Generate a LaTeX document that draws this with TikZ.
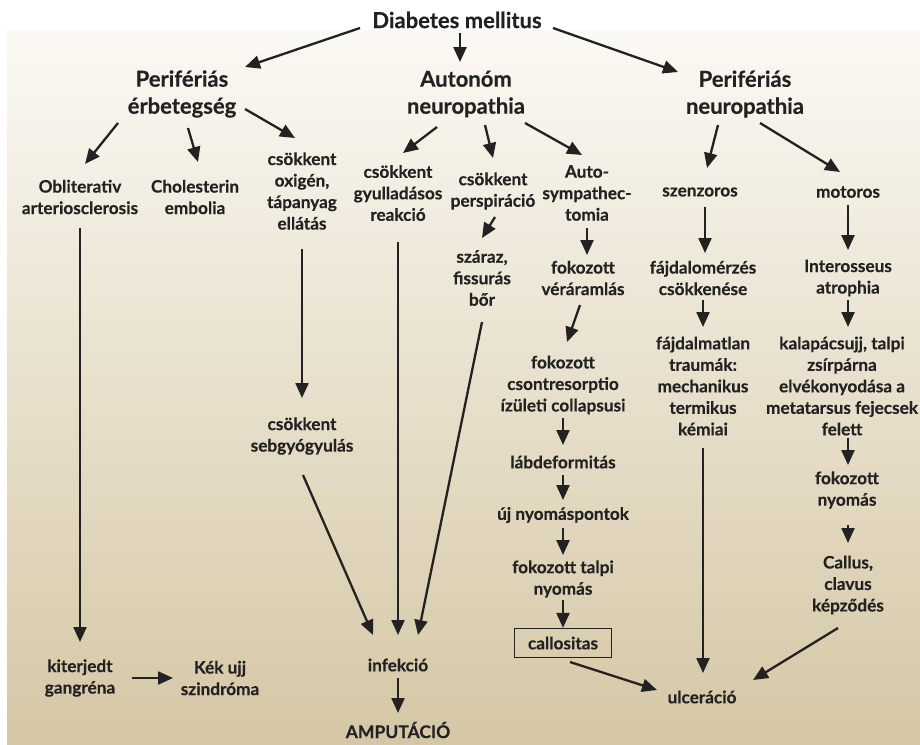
\documentclass[tikz,border=0pt]{standalone}
\usepackage{fontspec}
\setmainfont{Lato}[BoldFeatures={FakeBold=0.35}]
\usetikzlibrary{arrows.meta}
\definecolor{ink}{HTML}{222222}
\definecolor{bgtop}{HTML}{FBF9F4}
\definecolor{bgbot}{HTML}{D5C7A5}
\tikzset{
  txt/.style={font=\fontsize{17.2}{21.5}\selectfont\bfseries, align=center, text=ink, inner sep=0pt},
  hd/.style={font=\fontsize{22}{27}\selectfont\bfseries, align=center, text=ink, inner sep=0pt},
  arrow/.style={draw=ink, line width=2.3pt, -{Triangle[length=15pt,width=13pt]}},
  boxed/.style={txt, draw=ink, line width=1.2pt, minimum width=97pt, minimum height=29pt}
}
\begin{document}
\begin{tikzpicture}[x=1pt,y=-1pt]
\useasboundingbox (0,0) rectangle (920,744);
\fill[white] (0,0) rectangle (920,744);
\shade[top color=bgtop, bottom color=bgbot] (7,30) rectangle (920,744);

\node[hd] (dm) at (457,20) {Diabetes mellitus};
\node[hd] (pe) at (182,94) {Perifériás\\érbetegség};
\node[hd] (an) at (466,94) {Autonóm\\neuropathia};
\node[hd] (pn) at (745,94) {Perifériás\\neuropathia};

\node[txt] (ob) at (80,197) {Obliterativ\\arteriosclerosis};
\node[txt] (ch) at (195,197) {Cholesterin\\embolia};
\node[txt] (ox) at (302,191) {csökkent\\oxigén,\\tápanyag\\ellátás};
\node[txt] (gy) at (398,193) {csökkent\\gyulladásos\\reakció};
\node[txt] (ps) at (493,191) {csökkent\\perspiráció};
\node[txt] (as) at (587,193) {Auto-\\sympathec-\\tomia};
\node[txt] (sz) at (482,278) {száraz,\\fissurás\\bőr};
\node[txt] (fv) at (583,278) {fokozott\\véráramlás};
\node[txt] (se) at (700,192) {szenzoros};
\node[txt] (mo) at (848,192) {motoros};
\node[txt] (fc) at (703,278) {fájdalomérzés\\csökkenése};
\node[txt] (ia) at (848,278) {Interosseus\\atrophia};
\node[txt] (cr) at (563,385) {fokozott\\csontresorptio\\ízületi collapsusi};
\node[txt] (ld) at (563,462) {lábdeformitás};
\node[txt] (ft) at (703,386) {fájdalmatlan\\traumák:\\mechanikus\\termikus\\kémiai};
\node[txt] (ka) at (842,386) {kalapácsujj, talpi\\zsírpárna\\elvékonyodása a\\metatarsus fejecsek\\felett};
\node[txt] (fn) at (847,490) {fokozott\\nyomás};
\node[txt] (ca) at (848,585) {Callus,\\clavus\\képződés};
\node[txt] (un) at (563,515) {új nyomáspontok};
\node[txt] (tp) at (563,579) {fokozott talpi\\nyomás};
\node[boxed] (cs) at (563,643) {callositas};
\node[txt] (ul) at (702,697) {ulceráció};
\node[txt] (sb) at (302,436) {csökkent\\sebgyógyulás};
\node[txt] (kg) at (80,678) {kiterjedt\\gangréna};
\node[txt] (ku) at (220,678) {Kék ujj\\szindróma};
\node[txt] (in) at (398,665) {infekció};
\node[txt, font=\fontsize{17.5}{21}\selectfont\bfseries] (am) at (398,730) {AMPUTÁCIÓ};

\draw[arrow] ([shift={(-97,8)}]dm.center) -- ([shift={(63,-27)}]pe.center);
\draw[arrow] ([shift={(3,13)}]dm.center) -- ([shift={(-6,-32)}]an.center);
\draw[arrow] ([shift={(96,8)}]dm.center) -- ([shift={(-67,-22)}]pn.center);
\draw[arrow] ([shift={(-64,29)}]pe.center) -- ([shift={(5,-33)}]ob.center);
\draw[arrow] ([shift={(6,34)}]pe.center) -- ([shift={(3,-35)}]ch.center);
\draw[arrow] ([shift={(63,15)}]pe.center) -- ([shift={(-7,-53)}]ox.center);
\draw[arrow] ([shift={(-29,33)}]an.center) -- ([shift={(5,-40)}]gy.center);
\draw[arrow] ([shift={(19,31)}]an.center) -- ([shift={(0,-33)}]ps.center);
\draw[arrow] ([shift={(59,29)}]an.center) -- ([shift={(-5,-38)}]as.center);
\draw[arrow] ([shift={(2,26)}]ps.center) -- ([shift={(0,-40)}]sz.center);
\draw[arrow] ([shift={(0,35)}]as.center) -- ([shift={(4,-23)}]fv.center);
\draw[arrow] ([shift={(-27,31)}]pn.center) -- ([shift={(7,-24)}]se.center);
\draw[arrow] ([shift={(15,29)}]pn.center) -- ([shift={(-8,-20)}]mo.center);
\draw[arrow] ([shift={(5,15)}]se.center) -- ([shift={(2,-25)}]fc.center);
\draw[arrow] ([shift={(0,13)}]mo.center) -- ([shift={(0,-28)}]ia.center);
\draw[arrow] ([shift={(0,22)}]fc.center) -- ([shift={(0,-59)}]ft.center);
\draw[arrow] ([shift={(0,22)}]ia.center) -- ([shift={(6,-59)}]ka.center);
\draw[arrow] ([shift={(-3,27)}]fv.center) -- ([shift={(4,-43)}]cr.center);
\draw[arrow] ([shift={(0,33)}]cr.center) -- ([shift={(0,-17)}]ld.center);
\draw[arrow] ([shift={(0,13)}]ld.center) -- ([shift={(0,-15)}]un.center);
\draw[arrow] ([shift={(0,13)}]un.center) -- ([shift={(0,-24)}]tp.center);
\draw[arrow] ([shift={(0,21)}]tp.center) -- (cs.north);
\draw[arrow] ([shift={(7,19)}]cs.center) -- ([shift={(-45,-7)}]ul.center);
\draw[arrow] ([shift={(0,62)}]ft.center) -- ([shift={(1,-24)}]ul.center);
\draw[arrow] ([shift={(-10,43)}]ca.center) -- ([shift={(51,-17)}]ul.center);
\draw[arrow] ([shift={(6,52)}]ka.center) -- ([shift={(1,-25)}]fn.center);
\draw[arrow] ([shift={(1,35)}]fn.center) -- ([shift={(0,-42)}]ca.center);
\draw[arrow] ([shift={(0,31)}]ob.center) -- ([shift={(0,-36)}]kg.center);
\draw[arrow] ([shift={(52,0)}]kg.center) -- ([shift={(-47,0)}]ku.center);
\draw[arrow] ([shift={(0,58)}]ox.center) -- ([shift={(0,-38)}]sb.center);
\draw[arrow] ([shift={(1,39)}]sb.center) -- ([shift={(-25,-30)}]in.center);
\draw[arrow] ([shift={(0,49)}]gy.center) -- ([shift={(0,-30)}]in.center);
\draw[arrow] ([shift={(0,44)}]sz.center) -- ([shift={(20,-30)}]in.center);
\draw[arrow] ([shift={(0,13)}]in.center) -- ([shift={(0,-17)}]am.center);
\end{tikzpicture}
\end{document}
